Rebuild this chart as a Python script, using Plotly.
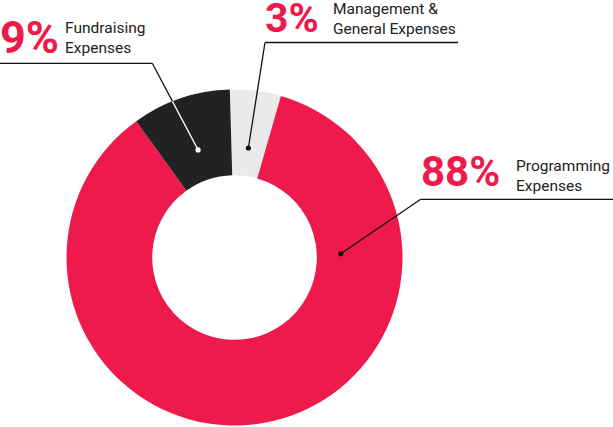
import numpy as np
import plotly.graph_objects as go

# ---- data ----
labels = ["Management & General Expenses", "Programming Expenses", "Fundraising Expenses"]
slice_values = [4.9, 85.6, 9.5]          # slice sizes as drawn in the picture
pct_text = ["3%", "88%", "9%"]           # printed percentages
desc_text = ["Management &<br>General Expenses", "Programming<br>Expenses", "Fundraising<br>Expenses"]

# ---- style / layout ----
colors = ["#EAEAEA", "#EE1A4C", "#222222"]
RED = "#EE1A4C"
W, H = 613, 427
cx, cy, R = 234.5, 257.5, 168.0
hole = 0.49
rotation = -1.6

def px(x):
    return x / W

def py(y):
    return 1 - y / H

fig = go.Figure(go.Pie(
    labels=labels, values=slice_values, sort=False, direction="clockwise",
    rotation=rotation, hole=hole, textinfo="none", hoverinfo="skip",
    marker=dict(colors=colors, line=dict(width=0)),
    domain=dict(x=[px(cx - R), px(cx + R)], y=[py(cy + R), py(cy - R)]),
    showlegend=False,
))

# pointer geometry (angles clockwise from 12 o'clock)
total = sum(slice_values)
starts = rotation + 360 * (np.cumsum([0] + slice_values[:-1]) / total)
spans = 360 * np.array(slice_values) / total
mid = starts + spans / 2
pointer_angle = [mid[0], 88.0, mid[2]]
pointer_r = [0.657, 0.633, 0.676]
dot_color = ["#111111", "#111111", "#FFFFFF"]
elbows = [(265.0, 42.5), (420.7, 199.3), (152.3, 63.3)]
line_end_x = [458.0, 613.0, 0.0]

shapes = []
for i in range(3):
    a = np.radians(pointer_angle[i])
    r = pointer_r[i] * R
    dx, dy = cx + r * np.sin(a), cy - r * np.cos(a)
    ex, ey = elbows[i]
    shapes.append(dict(type="line", xref="paper", yref="paper",
                       x0=px(dx), y0=py(dy), x1=px(ex), y1=py(ey),
                       line=dict(color="#111111", width=1.3)))
    shapes.append(dict(type="line", xref="paper", yref="paper",
                       x0=px(ex), y0=py(ey), x1=px(line_end_x[i]), y1=py(ey),
                       line=dict(color="#111111", width=1.3)))
    if dot_color[i] == "#FFFFFF":
        vx, vy = ex - dx, ey - dy
        ox, oy = dx - cx, dy - cy
        A = vx * vx + vy * vy
        B = 2 * (ox * vx + oy * vy)
        C = ox * ox + oy * oy - R * R
        t = (-B + np.sqrt(B * B - 4 * A * C)) / (2 * A)
        shapes.append(dict(type="line", xref="paper", yref="paper",
                           x0=px(dx), y0=py(dy), x1=px(dx + t * vx), y1=py(dy + t * vy),
                           line=dict(color="#FFFFFF", width=1.3)))
    rr = 2.6
    shapes.append(dict(type="circle", xref="paper", yref="paper",
                       x0=px(dx - rr), x1=px(dx + rr), y0=py(dy + rr), y1=py(dy - rr),
                       fillcolor=dot_color[i], line=dict(width=0)))

# text positions (pixels)
pct_pos = [(263.0, 17.5), (419.5, 171.5), (-2.0, 37.5)]
pct_size = [41, 42, 45]
desc_pos = [(330.5, 18.5), (513.5, 175.5), (62.5, 38.5)]

annotations = []
for i in range(3):
    annotations.append(dict(text=pct_text[i], x=px(pct_pos[i][0]), y=py(pct_pos[i][1]),
                            xref="paper", yref="paper", xanchor="left", yanchor="middle",
                            showarrow=False,
                            font=dict(family="Roboto", size=pct_size[i], color=RED, weight=700)))
    annotations.append(dict(text=desc_text[i], x=px(desc_pos[i][0]), y=py(desc_pos[i][1]),
                            xref="paper", yref="paper", xanchor="left", yanchor="middle",
                            align="left", showarrow=False,
                            font=dict(family="Roboto", size=15.5, color="#222222")))

fig.update_layout(
    width=W, height=H, margin=dict(l=0, r=0, t=0, b=0),
    paper_bgcolor="white", plot_bgcolor="white",
    shapes=shapes, annotations=annotations,
)

fig.write_html("out.html")
